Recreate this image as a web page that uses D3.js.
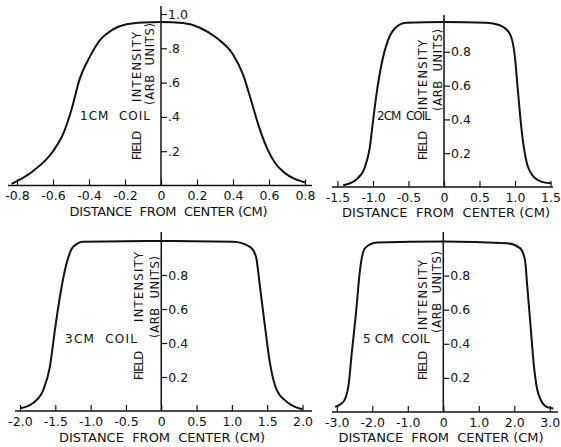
<!DOCTYPE html>
<html>
<head>
<meta charset="utf-8">
<script src="https://cdn.jsdelivr.net/npm/d3@7"></script>
<style>
  body { margin: 0; background: #fff; }
  svg text { font-family: "DejaVu Sans", sans-serif; fill: #111; }
</style>
</head>
<body>
<svg id="chart" width="561" height="447"></svg>
<script>
// field profiles (distance in cm, intensity in arb units)
const coil1X = [-0.83, -0.71, -0.6, -0.54, -0.498, -0.452, -0.396, -0.341, -0.267, -0.192, -0.1, 0,
  0.122, 0.216, 0.308, 0.4, 0.456, 0.502, 0.545, 0.59, 0.635, 0.685, 0.74, 0.8];
const coil1Y = [0.01, 0.085, 0.2, 0.31, 0.44, 0.62, 0.75, 0.845, 0.91, 0.94, 0.951, 0.953,
  0.947, 0.92, 0.861, 0.764, 0.647, 0.491, 0.34, 0.215, 0.13, 0.075, 0.04, 0.018];

const coil2X = [-1.42, -1.234, -1.117, -1.046, -1.0, -0.952, -0.882, -0.788, -0.67, -0.53, 0,
  0.597, 0.785, 0.925, 0.996, 1.042, 1.09, 1.16, 1.254, 1.394, 1.51];
const coil2Y = [0.01, 0.045, 0.114, 0.231, 0.388, 0.545, 0.722, 0.869, 0.947, 0.972, 0.976,
  0.972, 0.957, 0.908, 0.78, 0.565, 0.349, 0.153, 0.065, 0.029, 0.022];

const coil3X = [-2.0, -1.81, -1.67, -1.577, -1.506, -1.435, -1.34, -1.246, -1.105, 0,
  1.02, 1.256, 1.341, 1.398, 1.469, 1.54, 1.634, 1.776, 2.0];
const coil3Y = [0.016, 0.049, 0.124, 0.26, 0.476, 0.672, 0.869, 0.966, 0.996, 1.0,
  0.996, 0.966, 0.908, 0.731, 0.496, 0.28, 0.124, 0.055, 0.01];

const coil5X = [-3.05, -2.817, -2.676, -2.58, -2.46, -2.346, -2.206, -1.876, 0,
  1.786, 2.16, 2.3, 2.366, 2.46, 2.555, 2.676, 2.91, 3.1];
const coil5Y = [0.03, 0.059, 0.147, 0.343, 0.579, 0.834, 0.961, 0.994, 1.0,
  0.99, 0.961, 0.892, 0.735, 0.5, 0.265, 0.108, 0.03, 0.02];

// tick values and labels
const yTicks1 = [0.2, 0.4, 0.6, 0.8, 1.0];
const yLabels1 = [".2", ".4", ".6", ".8", "1.0"];
const yTicks = [0.2, 0.4, 0.6, 0.8];
const yLabels = ["0.2", "0.4", "0.6", "0.8"];

const xTicks1 = [-0.8, -0.6, -0.4, -0.2, 0, 0.2, 0.4, 0.6, 0.8];
const xLabels1 = ["-0.8", "-0.6", "-0.4", "-0.2", "0", "0.2", "0.4", "0.6", "0.8"];
const xTicks2 = [-1.5, -1.0, -0.5, 0, 0.5, 1.0, 1.5];
const xLabels2 = ["-1.5", "-1.0", "-0.5", "0", "0.5", "1.0", "1.5"];
const xTicks3 = [-2.0, -1.5, -1.0, -0.5, 0, 0.5, 1.0, 1.5, 2.0];
const xLabels3 = ["-2.0", "-1.5", "-1.0", "-0.5", "0", "0.5", "1.0", "1.5", "2.0"];
const xTicks5 = [-3, -2, -1, 0, 1, 2, 3];
const xLabels5 = ["-3.0", "-2.0", "-1.0", "0", "1.0", "2.0", "3.0"];

const coilNames = ["1CM  COIL", "2CM  COIL", "3CM  COIL", "5 CM  COIL"];

// panel layout (pixel placement on the page)
const panels = [
  { xs: coil1X, ys: coil1Y, xt: xTicks1, xl: xLabels1, yt: yTicks1, yl: yLabels1, name: coilNames[0],
    xDom: [-0.8, 0.8], xRange: [17, 305], yRange: [185.5, 14], axisX: [8, 312], axisTop: 6,
    nameX: 80, nameY: 120, nameW: 70, fieldX: 141, arbX: 154,
    fieldBottom: 160, intBottom: 102, arbBottom: 105, titleX: 168.5, titleY: 215.5, titleW: 198 },
  { xs: coil2X, ys: coil2Y, xt: xTicks2, xl: xLabels2, yt: yTicks, yl: yLabels, name: coilNames[1],
    xDom: [-1.5, 1.5], xRange: [337.5, 550.5], yRange: [187, 18], axisX: [332, 553], axisTop: 15,
    nameX: 377, nameY: 119.5, nameW: 54, fieldX: 426.5, arbX: 442,
    fieldBottom: 160, intBottom: 110, arbBottom: 111, titleX: 446, titleY: 216.5, titleW: 208 },
  { xs: coil3X, ys: coil3Y, xt: xTicks3, xl: xLabels3, yt: yTicks, yl: yLabels, name: coilNames[2],
    xDom: [-2, 2], xRange: [20, 302.5], yRange: [411, 241], axisX: [15, 312], axisTop: 232,
    nameX: 65, nameY: 342.5, nameW: 72, fieldX: 142.5, arbX: 159,
    fieldBottom: 380, intBottom: 322, arbBottom: 338, titleX: 162, titleY: 441.5, titleW: 206 },
  { xs: coil5X, ys: coil5Y, xt: xTicks5, xl: xLabels5, yt: yTicks, yl: yLabels, name: coilNames[3],
    xDom: [-3, 3], xRange: [336.8, 549.8], yRange: [412, 241.5], axisX: [332, 558], axisTop: 232,
    nameX: 363, nameY: 342.5, nameW: 67, fieldX: 426.5, arbX: 441,
    fieldBottom: 380, intBottom: 330, arbBottom: 333, titleX: 441, titleY: 441.5, titleW: 205 }
];

const svg = d3.select("#chart");
svg.append("rect").attr("width", 561).attr("height", 447).attr("fill", "#fff");

panels.forEach(p => {
  const x = d3.scaleLinear().domain(p.xDom).range(p.xRange);
  const y = d3.scaleLinear().domain([0, 1]).range(p.yRange);
  const g = svg.append("g");
  const base = y(0);
  const x0 = x(0);

  // axis lines
  g.append("line").attr("x1", p.axisX[0]).attr("x2", p.axisX[1])
    .attr("y1", base).attr("y2", base).attr("stroke", "#111").attr("stroke-width", 1.4);
  g.append("line").attr("x1", x0).attr("x2", x0)
    .attr("y1", base).attr("y2", p.axisTop).attr("stroke", "#111").attr("stroke-width", 1.5);

  // x axis: ticks point up, labels below
  const xAxis = g.append("g").attr("transform", `translate(0,${base})`)
    .call(d3.axisBottom(x).tickValues(p.xt).tickFormat((d, i) => p.xl[i])
      .tickSizeInner(-6).tickSizeOuter(0).tickPadding(6));
  xAxis.select(".domain").remove();
  xAxis.selectAll("line").attr("stroke", "#111").attr("stroke-width", 1.2);
  xAxis.selectAll("text").attr("font-size", 12.5).attr("fill", "#111");

  // y axis on the centre line, ticks to the right
  const yAxis = g.append("g").attr("transform", `translate(${x0},0)`)
    .call(d3.axisRight(y).tickValues(p.yt).tickFormat((d, i) => p.yl[i])
      .tickSize(6).tickPadding(1));
  yAxis.select(".domain").remove();
  yAxis.selectAll("line").attr("stroke", "#111").attr("stroke-width", 1.2);
  yAxis.selectAll("text").attr("font-size", 12.5).attr("fill", "#111");

  // profile curve
  const pts = p.xs.map((v, i) => [v, p.ys[i]]);
  const line = d3.line().x(d => x(d[0])).y(d => y(d[1])).curve(d3.curveMonotoneX);
  g.append("path").datum(pts).attr("d", line)
    .attr("fill", "none").attr("stroke", "#111").attr("stroke-width", 2);

  // labels
  g.append("text").attr("x", p.nameX).attr("y", p.nameY)
    .attr("font-size", 12).attr("textLength", p.nameW).attr("lengthAdjust", "spacing")
    .style("white-space", "pre").text(p.name);

  g.append("text").attr("transform", `translate(${p.fieldX},${p.fieldBottom}) rotate(-90)`)
    .attr("font-size", 11.5).attr("textLength", 29).attr("lengthAdjust", "spacing").text("FIELD");
  g.append("text").attr("transform", `translate(${p.fieldX},${p.intBottom}) rotate(-90)`)
    .attr("font-size", 11.5).attr("textLength", 70).attr("lengthAdjust", "spacing").text("INTENSITY");
  g.append("text").attr("transform", `translate(${p.arbX},${p.arbBottom}) rotate(-90)`)
    .attr("font-size", 11.5).attr("textLength", 82).attr("lengthAdjust", "spacing")
    .style("white-space", "pre").text("(ARB  UNITS)");

  g.append("text").attr("x", p.titleX).attr("y", p.titleY)
    .attr("text-anchor", "middle").attr("font-size", 13)
    .attr("textLength", p.titleW).attr("lengthAdjust", "spacing")
    .style("white-space", "pre").text("DISTANCE  FROM  CENTER (CM)");
});
</script>
</body>
</html>
